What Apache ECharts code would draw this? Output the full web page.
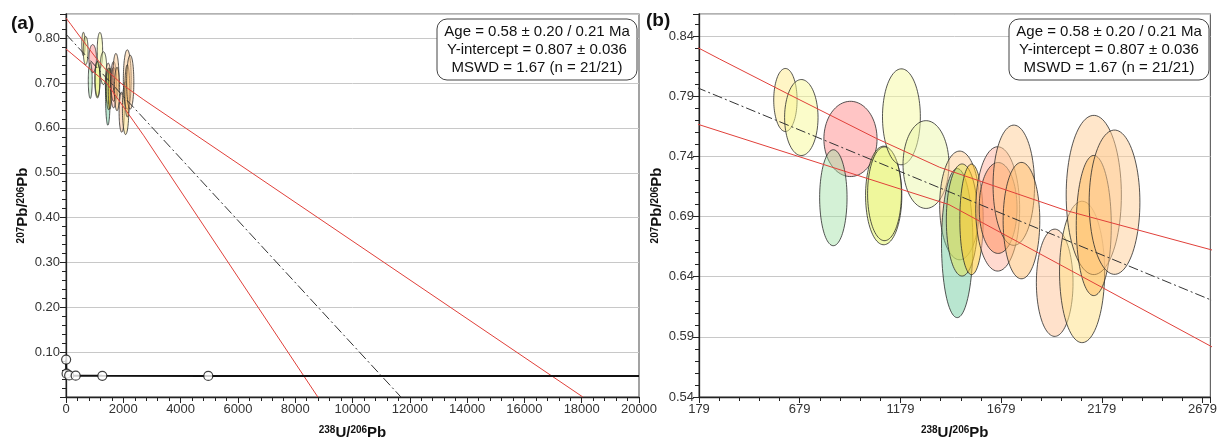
<!DOCTYPE html>
<html><head><meta charset="utf-8">
<script src="https://cdn.jsdelivr.net/npm/echarts@6.0.0/dist/echarts.min.js"></script>
<style>html,body{margin:0;padding:0;background:#fff}#c{width:1220px;height:445px}</style>
</head><body><div id="c"></div>
<script>
// ---- data ----
// error ellipses: centre (238U/206Pb, 207Pb/206Pb) and half-axes
const ellipseX  = [608, 687, 931, 846, 1096, 1100, 1184, 1306, 1473, 1461, 1485, 1532, 1662, 1664, 1742, 1780, 1945, 2081, 2139, 2139, 2242];
const ellipseY  = [0.787, 0.7724, 0.7546, 0.7057, 0.7076, 0.709, 0.773, 0.7333, 0.6993, 0.668, 0.6872, 0.6877, 0.6964, 0.6972, 0.7161, 0.6867, 0.635, 0.644, 0.708, 0.6826, 0.702];
const ellipseRx = [58, 83, 132, 68, 90, 84, 94, 114, 99, 78, 78, 58, 109, 94, 103, 91, 91, 112, 137, 87, 126];
const ellipseRy = [0.0262, 0.0316, 0.0313, 0.0399, 0.041, 0.039, 0.0399, 0.0365, 0.0452, 0.062, 0.0466, 0.046, 0.0517, 0.0378, 0.050, 0.0484, 0.0446, 0.0588, 0.0662, 0.0583, 0.060];
// regression line (dash-dot) and its error envelope (red)
const regressionX = [0, 11690];
const regressionY = [0.809, 0];
const upperBandX = [0, 179, 282, 621, 1060, 1374, 2003, 2718, 18040];
const upperBandY = [0.845, 0.830, 0.821, 0.792, 0.755, 0.731, 0.695, 0.6626, 0];
const lowerBandX = [0, 179, 1420, 2718, 8790];
const lowerBandY = [0.776, 0.7665, 0.700, 0.5824, 0];
// concordia curve and age markers (panel a)
const concordiaX = [4.5, 8, 21, 110, 338, 1268, 4966, 20000];
const concordiaY = [0.0834, 0.066, 0.0521, 0.048, 0.0475, 0.0472, 0.0471, 0.0470];
const markerX = [4.5, 21, 110, 338, 1268, 4966];
const markerY = [0.0834, 0.0521, 0.048, 0.0475, 0.0472, 0.0471];
// stats text
const statsLines = ['Age = 0.58 \u00b1 0.20 / 0.21 Ma', 'Y-intercept = 0.807 \u00b1 0.036', 'MSWD = 1.67 (n = 21/21)'];
const panelLabels = ['(a)', '(b)'];

// ---- styles ----
const ellipseColors = [
  'rgba(255,236,150,0.55)', 'rgba(248,250,150,0.5)', 'rgba(255,140,140,0.5)', 'rgba(160,225,165,0.45)',
  'rgba(230,245,110,0.55)', 'rgba(235,240,120,0.35)', 'rgba(245,250,160,0.5)', 'rgba(235,248,170,0.5)',
  'rgba(255,205,150,0.5)', 'rgba(100,200,150,0.45)', 'rgba(225,225,80,0.5)', 'rgba(255,200,50,0.55)',
  'rgba(255,180,160,0.5)', 'rgba(255,140,90,0.5)', 'rgba(255,205,150,0.5)', 'rgba(255,190,110,0.5)',
  'rgba(255,200,160,0.55)', 'rgba(255,225,140,0.55)', 'rgba(255,205,150,0.5)', 'rgba(255,185,90,0.5)',
  'rgba(255,205,150,0.5)'
];
const FONT = '"Liberation Sans", Arial, sans-serif';
const richName = {
  b: {fontSize: 15, fontWeight: 'bold', color: '#111', fontFamily: FONT},
  s: {fontSize: 10, fontWeight: 'bold', color: '#111', fontFamily: FONT, verticalAlign: 'top'}
};
const xName = '{s|238}{b|U/}{s|206}{b|Pb}';
const yName = '{s|207}{b|Pb/}{s|206}{b|Pb}';

function zip(a, b) { return a.map((v, i) => [v, b[i]]); }

function axisBase() {
  return {
    type: 'value',
    axisLine: {show: true, onZero: false, lineStyle: {color: '#222', width: 1.3}},
    axisTick: {show: true, inside: false, length: 6, lineStyle: {color: '#222', width: 1}},
    minorTick: {show: true, splitNumber: 5, length: 4, lineStyle: {color: '#222', width: 1}},
    nameLocation: 'middle',
    nameTextStyle: {rich: richName}
  };
}
const intFmt = v => String(Math.round(v));
const decFmt = v => v.toFixed(2);

function ellipseSeries(gi) {
  return {
    type: 'custom', xAxisIndex: gi, yAxisIndex: gi, silent: true, z: 3,
    data: ellipseX.map((x, i) => [x, ellipseY[i], ellipseRx[i], ellipseRy[i], i]),
    encode: {x: 0, y: 1},
    renderItem: function (params, api) {
      const cx = api.value(0), cy = api.value(1), rx = api.value(2), ry = api.value(3), idx = api.value(4);
      const pts = [];
      for (let k = 0; k < 90; k++) {
        const t = k / 90 * 2 * Math.PI;
        pts.push(api.coord([cx + rx * Math.cos(t), cy + ry * Math.sin(t)]));
      }
      return {type: 'polygon', shape: {points: pts},
        style: {fill: ellipseColors[idx], stroke: '#2a2a2a', lineWidth: 0.8}};
    }
  };
}
function lineSeries(gi, xs, ys, style, z) {
  return {type: 'line', xAxisIndex: gi, yAxisIndex: gi, data: zip(xs, ys), showSymbol: false,
    symbol: 'none', lineStyle: style, silent: true, z: z, animation: false};
}

const redStyle = {color: '#e0403a', width: 1};
const regStyle = {color: '#333', width: 1, type: [10, 3, 2, 3]};

function statsBox(rightEdge) {
  const w = 200, h = 61, x = rightEdge - w, y = 19;
  return [
    {type: 'rect', shape: {x: x, y: y, width: w, height: h, r: 10},
     style: {fill: '#fff', stroke: '#444', lineWidth: 1}, z: 100},
    {type: 'text', x: x + w / 2, y: y + h / 2 + 0.5, z: 101,
     style: {text: statsLines.join('\n'), align: 'center', verticalAlign: 'middle',
       fontSize: 15, lineHeight: 18, fontFamily: FONT, fill: '#111'}}
  ];
}
const labelStyle = {color: '#333', fontSize: 13, fontFamily: FONT};

const option = {
  animation: false,
  textStyle: {fontFamily: FONT},
  grid: [
    {left: 66, top: 14, width: 573, height: 393, show: true, borderColor: '#666', borderWidth: 1.2, backgroundColor: 'transparent'},
    {left: 699, top: 14, width: 512, height: 393, show: true, borderColor: '#666', borderWidth: 1.2, backgroundColor: 'transparent'}
  ],
  xAxis: [
    Object.assign(axisBase(), {gridIndex: 0, min: 0, max: 20000, interval: 2000,
      splitLine: {show: false}, name: xName, nameGap: 28,
      axisLabel: Object.assign({margin: 6, formatter: intFmt}, labelStyle)}),
    Object.assign(axisBase(), {gridIndex: 1, min: 179, max: 2718, interval: 500,
      splitLine: {show: false}, name: xName, nameGap: 28,
      axisLabel: Object.assign({margin: 6, showMaxLabel: false, formatter: intFmt}, labelStyle)})
  ],
  yAxis: [
    Object.assign(axisBase(), {gridIndex: 0, min: 0, max: 0.854, interval: 0.1,
      splitLine: {show: true, lineStyle: {color: '#c8c8c8', width: 1}},
      axisLabel: Object.assign({margin: 6, showMinLabel: false, showMaxLabel: false, formatter: decFmt}, labelStyle),
      name: yName, nameRotate: 90, nameGap: 28}),
    Object.assign(axisBase(), {gridIndex: 1, min: 0.54, max: 0.8585, interval: 0.05,
      splitLine: {show: true, lineStyle: {color: '#c8c8c8', width: 1}},
      axisLabel: Object.assign({margin: 5, showMaxLabel: false, formatter: decFmt}, labelStyle),
      name: yName, nameRotate: 90, nameGap: 20})
  ],
  series: [
    ellipseSeries(0),
    lineSeries(0, upperBandX, upperBandY, redStyle, 4),
    lineSeries(0, lowerBandX, lowerBandY, redStyle, 4),
    lineSeries(0, regressionX, regressionY, regStyle, 4),
    lineSeries(0, concordiaX, concordiaY, {color: '#111', width: 2}, 5),
    {type: 'scatter', xAxisIndex: 0, yAxisIndex: 0, data: zip(markerX, markerY), symbol: 'circle', symbolSize: 9,
     itemStyle: {color: '#fff', borderColor: '#111', borderWidth: 1.2}, z: 6, silent: true},
    ellipseSeries(1),
    lineSeries(1, upperBandX, upperBandY, redStyle, 4),
    lineSeries(1, lowerBandX, lowerBandY, redStyle, 4),
    lineSeries(1, regressionX, regressionY, regStyle, 4)
  ],
  graphic: [
    {type: 'text', x: 11, y: 14, z: 100, style: {text: panelLabels[0], fontSize: 19, fontWeight: 'bold', fontFamily: FONT, fill: '#111', verticalAlign: 'top'}},
    {type: 'text', x: 646, y: 11, z: 100, style: {text: panelLabels[1], fontSize: 19, fontWeight: 'bold', fontFamily: FONT, fill: '#111', verticalAlign: 'top'}}
  ].concat(statsBox(637)).concat(statsBox(1209))
};
const chart = echarts.init(document.getElementById('c'), null, {renderer: 'canvas'});
chart.setOption(option);
</script></body></html>
